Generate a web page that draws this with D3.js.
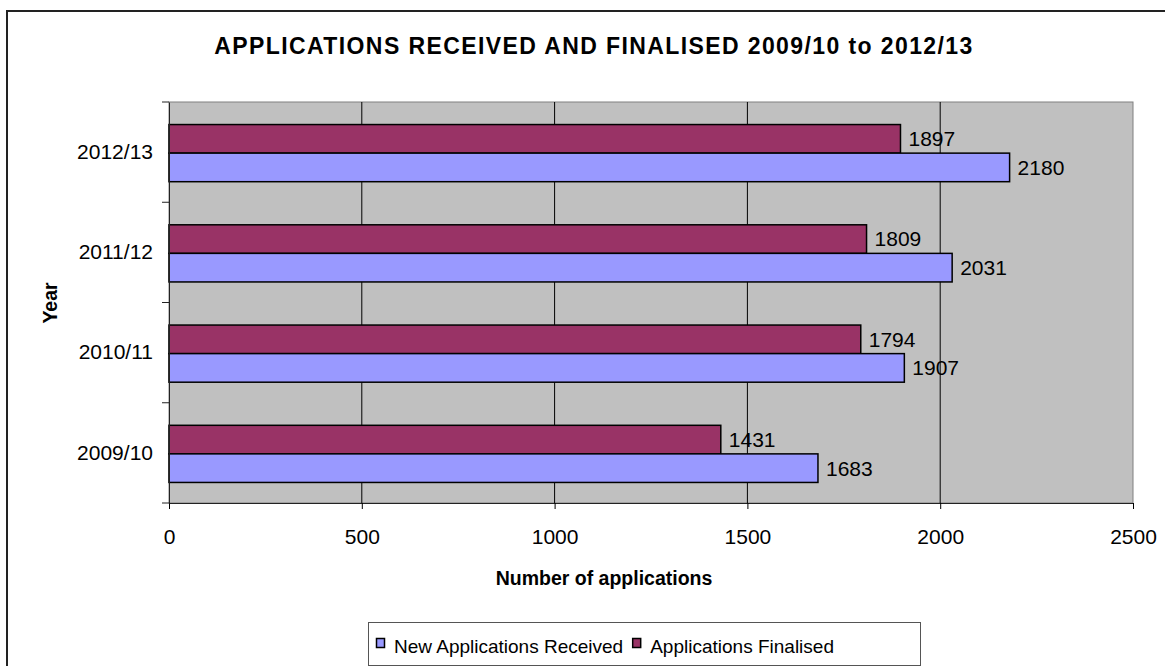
<!DOCTYPE html>
<html>
<head>
<meta charset="utf-8">
<script src="https://cdn.jsdelivr.net/npm/d3@7"></script>
<style>
  html, body { margin: 0; background: #fff; overflow: hidden; }
  svg { display: block; overflow: hidden; font-family: "Liberation Sans", Arial, sans-serif; }
</style>
</head>
<body>
<svg id="chart" width="1165" height="666"></svg>
<script>
const years = ["2012/13", "2011/12", "2010/11", "2009/10"];
const received = [2180, 2031, 1907, 1683];
const finalised = [1897, 1809, 1794, 1431];
const xTicks = [0, 500, 1000, 1500, 2000, 2500];
const seriesNames = ["New Applications Received", "Applications Finalised"];
const seriesColors = ["#9999ff", "#993366"];

const svg = d3.select("#chart");
const plot = { left: 169, right: 1133, top: 102, bottom: 503 };

// outer frame (runs off the right and bottom edges)
svg.append("path")
  .attr("d", "M7,700 V11 H1200")
  .attr("fill", "none")
  .attr("stroke", "#222")
  .attr("stroke-width", 2);

svg.append("text")
  .attr("x", 594)
  .attr("y", 54)
  .attr("text-anchor", "middle")
  .attr("font-size", 23)
  .attr("font-weight", "bold")
  .attr("letter-spacing", 1.4)
  .text("APPLICATIONS RECEIVED AND FINALISED 2009/10 to 2012/13");

const x = d3.scaleLinear().domain([0, 2500]).range([plot.left, plot.right]);
const y = d3.scaleBand().domain(years).range([plot.top, plot.bottom]).paddingInner(0.43).paddingOuter(0.215);
const inner = d3.scaleBand().domain(["fin", "rec"]).range([0, y.bandwidth()]);

svg.append("rect")
  .attr("x", plot.left).attr("y", plot.top)
  .attr("width", plot.right - plot.left).attr("height", plot.bottom - plot.top)
  .attr("fill", "#c0c0c0")
  .attr("stroke", "#808080");

// gridlines
svg.append("g")
  .selectAll("line")
  .data(xTicks.slice(1, -1))
  .join("line")
  .attr("x1", (d) => x(d)).attr("x2", (d) => x(d))
  .attr("y1", plot.top).attr("y2", plot.bottom)
  .attr("stroke", "#000");

const rows = years.map((yr, i) => ({ yr, rec: received[i], fin: finalised[i] }));

const group = svg.append("g")
  .selectAll("g")
  .data(rows)
  .join("g")
  .attr("transform", (d) => `translate(0, ${y(d.yr) + 1})`);

[["fin", 1], ["rec", 0]].forEach(([k, s]) => {
  group.append("rect")
    .attr("x", x(0))
    .attr("y", inner(k))
    .attr("width", (d) => x(d[k]) - x(0))
    .attr("height", inner.bandwidth())
    .attr("fill", seriesColors[s])
    .attr("stroke", "#000")
    .attr("stroke-width", 1.5);
  group.append("text")
    .attr("x", (d) => x(d[k]) + 8)
    .attr("y", inner(k) + inner.bandwidth() / 2)
    .attr("dy", "0.35em")
    .attr("font-size", 21)
    .text((d) => d[k]);
});

// axes
const xAxis = svg.append("g")
  .attr("transform", `translate(0, ${plot.bottom})`)
  .call(d3.axisBottom(x).tickValues(xTicks).tickFormat(d3.format("d")).tickSize(6).tickPadding(20));
xAxis.select(".domain").attr("stroke", "#222");
xAxis.selectAll("text").attr("font-size", 21).attr("fill", "#000").attr("font-family", "Liberation Sans, Arial, sans-serif");

const yAxis = svg.append("g")
  .attr("transform", `translate(${plot.left}, 0)`)
  .call(d3.axisLeft(y).tickSize(0).tickPadding(16));
yAxis.select(".domain").attr("stroke", "#222");
yAxis.selectAll("text").attr("font-size", 21).attr("fill", "#000").attr("font-family", "Liberation Sans, Arial, sans-serif");

// category boundary ticks
svg.append("g")
  .selectAll("line")
  .data(d3.range(years.length + 1))
  .join("line")
  .attr("x1", plot.left - 7).attr("x2", plot.left)
  .attr("y1", (i) => plot.top + i * y.step())
  .attr("y2", (i) => plot.top + i * y.step())
  .attr("stroke", "#222");

svg.append("text")
  .attr("x", 604).attr("y", 585)
  .attr("text-anchor", "middle")
  .attr("font-size", 19.5).attr("font-weight", "bold")
  .text("Number of applications");

svg.append("text")
  .attr("transform", "translate(57, 303) rotate(-90)")
  .attr("text-anchor", "middle")
  .attr("font-size", 19.5).attr("font-weight", "bold")
  .text("Year");

// legend
const legend = svg.append("g");
legend.append("rect")
  .attr("x", 368.5).attr("y", 622.5)
  .attr("width", 552).attr("height", 43)
  .attr("fill", "#fff").attr("stroke", "#555");
let lx = 376;
seriesNames.forEach((name, i) => {
  legend.append("rect")
    .attr("x", lx + 0.5).attr("y", 638.5)
    .attr("width", 8).attr("height", 9)
    .attr("fill", seriesColors[i]).attr("stroke", "#000").attr("stroke-width", 1.5);
  const t = legend.append("text")
    .attr("x", lx + 18).attr("y", 653)
    .attr("font-size", 19)
    .text(name);
  lx += 18 + t.node().getComputedTextLength() + 9;
});
</script>
</body>
</html>
